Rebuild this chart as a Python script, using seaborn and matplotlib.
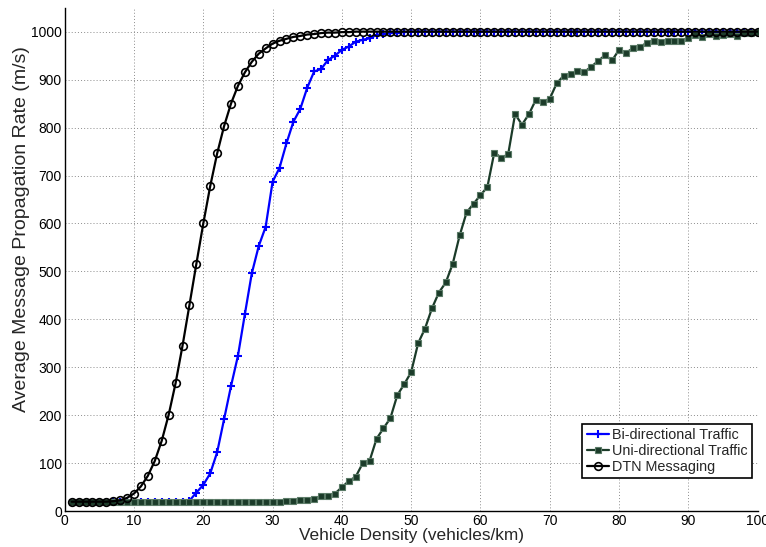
import matplotlib
matplotlib.use("Agg")
import matplotlib.pyplot as plt
import seaborn as sns
import pandas as pd

density = list(range(1, 101))

bi_directional = [
    20, 20, 20, 20, 20, 20, 20, 20, 20, 20,
    20, 20, 20, 20, 20, 20, 20, 22, 39, 55,
    79, 123, 192, 261, 324, 411, 496, 553, 593, 687,
    716, 767, 812, 839, 883, 917, 922, 941, 950, 962,
    969, 979, 983, 986, 993, 995, 997, 998, 999, 1000,
    1000, 1000, 1000, 1000, 1000, 1000, 1000, 1000, 1000, 1000,
    1000, 1000, 1000, 1000, 1000, 1000, 1000, 1000, 1000, 1000,
    1000, 1000, 1000, 1000, 1000, 1000, 1000, 1000, 1000, 1000,
    1000, 1000, 1000, 1000, 1000, 1000, 1000, 1000, 1000, 1000,
    1000, 1000, 1000, 1000, 1000, 1000, 1000, 1000, 1000, 1000,
]

uni_directional = [
    20, 20, 20, 20, 20, 20, 20, 20, 20, 20,
    20, 20, 20, 20, 20, 20, 20, 20, 20, 20,
    20, 20, 20, 20, 20, 20, 20, 20, 20, 20,
    20, 21, 21, 23, 24, 26, 31, 32, 37, 50,
    63, 72, 100, 105, 151, 173, 194, 242, 265, 290,
    350, 381, 423, 456, 477, 516, 575, 623, 641, 659,
    676, 748, 737, 744, 828, 806, 828, 858, 854, 860,
    892, 908, 911, 918, 916, 927, 939, 951, 940, 962,
    956, 965, 967, 977, 981, 978, 980, 980, 980, 987,
    993, 989, 995, 990, 993, 996, 991, 997, 997, 1000,
]

dtn_messaging = [
    20, 20, 20, 20, 20, 20, 21, 23, 28, 37,
    52, 74, 105, 147, 201, 267, 345, 430, 516, 600,
    678, 746, 803, 850, 887, 915, 937, 954, 965, 975,
    981, 985, 989, 991, 994, 995, 997, 998, 998, 999,
    999, 1000, 1000, 1000, 1000, 1000, 1000, 1000, 1000, 1000,
    1000, 1000, 1000, 1000, 1000, 1000, 1000, 1000, 1000, 1000,
    1000, 1000, 1000, 1000, 1000, 1000, 1000, 1000, 1000, 1000,
    1000, 1000, 1000, 1000, 1000, 1000, 1000, 1000, 1000, 1000,
    1000, 1000, 1000, 1000, 1000, 1000, 1000, 1000, 1000, 1000,
    1000, 1000, 1000, 1000, 1000, 1000, 1000, 1000, 1000, 1000,
]

series_names = ["Bi-directional Traffic", "Uni-directional Traffic", "DTN Messaging"]
x_ticks = [0, 10, 20, 30, 40, 50, 60, 70, 80, 90, 100]
y_ticks = [0, 100, 200, 300, 400, 500, 600, 700, 800, 900, 1000]

df = pd.DataFrame({
    "density": density,
    "bi": bi_directional,
    "uni": uni_directional,
    "dtn": dtn_messaging,
})

sns.set_style("white")
plt.rcParams["font.family"] = ["Liberation Sans", "DejaVu Sans"]

fig = plt.figure(figsize=(7.66, 5.47), dpi=100)
ax = fig.add_axes([0.0845, 0.0653, 0.9045, 0.9207])

ax.grid(True, linestyle=(0, (1, 2.2)), color="#8c8c8c", linewidth=0.7)
ax.set_axisbelow(True)

sns.lineplot(data=df, x="density", y="bi", ax=ax, color="#0000ff", linewidth=1.6,
             marker="+", markersize=6, markeredgewidth=1.5, markeredgecolor="#0000ff",
             label=series_names[0])
sns.lineplot(data=df, x="density", y="uni", ax=ax, color="#1b3b29", linewidth=1.6,
             marker="s", markersize=5, markerfacecolor="#1b3b29", markeredgecolor="#5a7a66",
             markeredgewidth=0.8, label=series_names[1])
sns.lineplot(data=df, x="density", y="dtn", ax=ax, color="black", linewidth=1.6,
             marker="o", markersize=5.5, markerfacecolor="none", markeredgecolor="black",
             markeredgewidth=1.2, label=series_names[2])

ax.set_xlim(0, 100)
ax.set_ylim(0, 1050)
ax.set_xticks(x_ticks)
ax.set_yticks(y_ticks)
ax.tick_params(axis="both", direction="in", length=5, width=0.8, labelsize=10,
               colors="black", pad=2)
for side in ["top", "right"]:
    ax.spines[side].set_visible(False)
for side in ["left", "bottom"]:
    ax.spines[side].set_color("black")
    ax.spines[side].set_linewidth(1.0)

ax.set_xlabel("Vehicle Density (vehicles/km)", fontsize=12.4, labelpad=0)
ax.set_ylabel("Average Message Propagation Rate (m/s)", fontsize=14)
ax.yaxis.set_label_coords(-0.05, 0.56)

leg = ax.legend(loc="lower right", bbox_to_anchor=(0.992, 0.066), fontsize=10.4,
                frameon=True, fancybox=False, framealpha=1, edgecolor="black",
                borderpad=0.3, handlelength=1.55, handletextpad=0.2, labelspacing=0.12,
                borderaxespad=0)
leg.get_frame().set_linewidth(1.2)

fig.savefig("out.png", dpi=100)
